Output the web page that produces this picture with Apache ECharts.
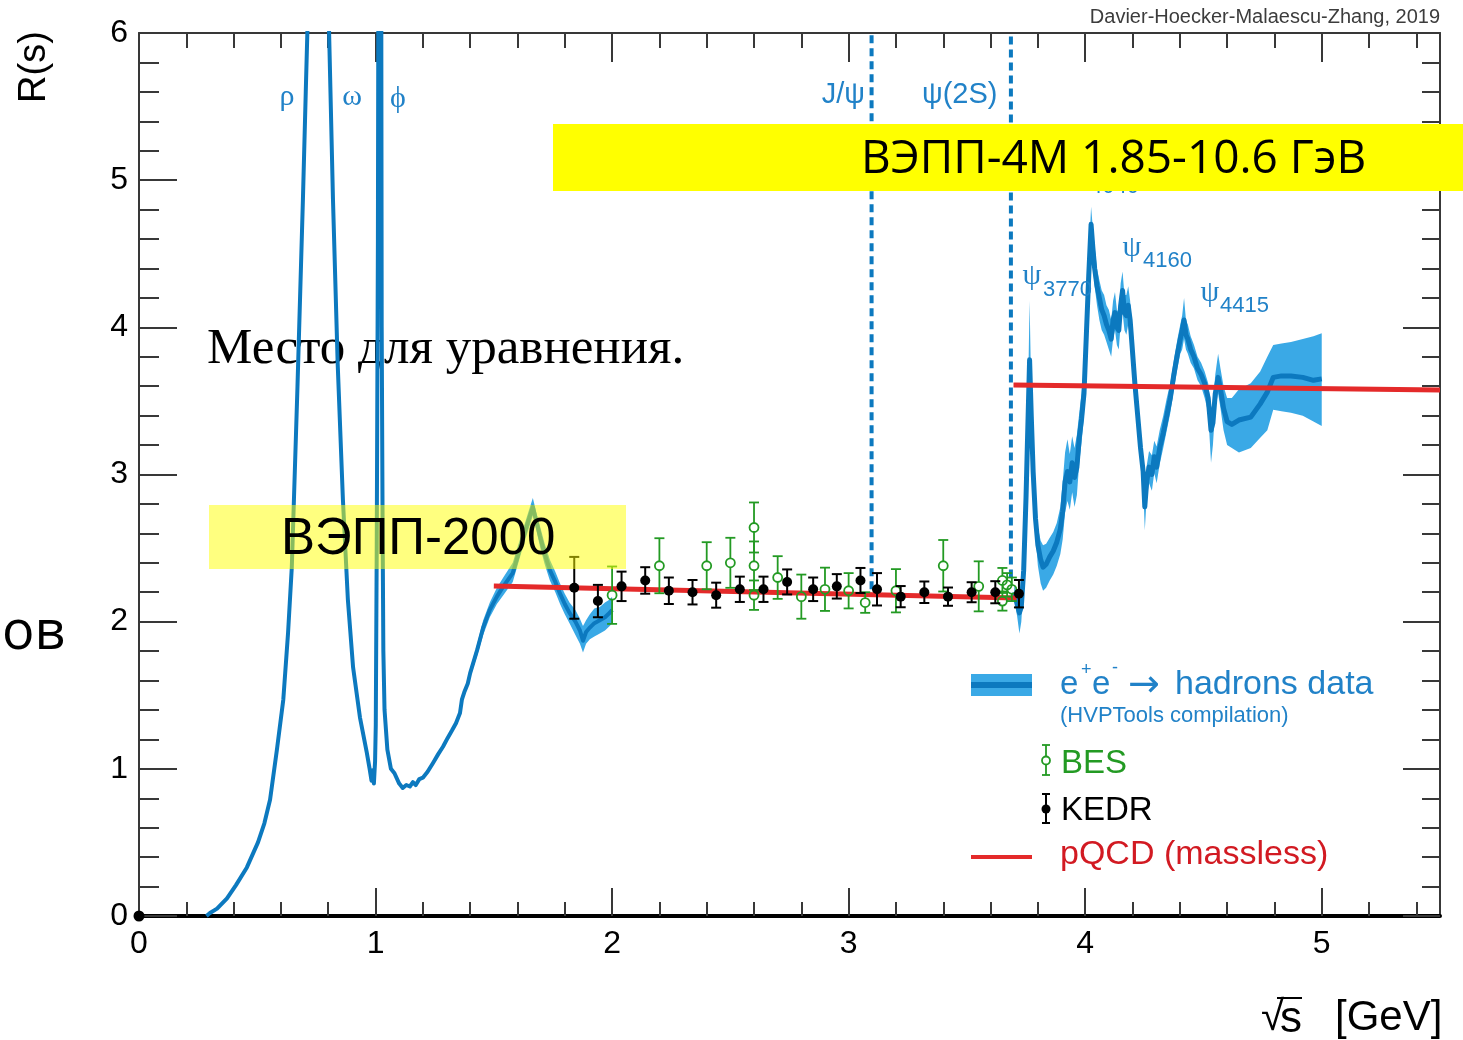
<!DOCTYPE html>
<html>
<head>
<meta charset="utf-8">
<title>R(s)</title>
<script src="https://cdn.jsdelivr.net/npm/echarts@6/dist/echarts.min.js"></script>
<style>
  html, body { margin: 0; padding: 0; background: #ffffff; }
  #chart { width: 1463px; height: 1040px; }
</style>
</head>
<body>
<div id="chart"></div>
<script>
// ---- e+e- -> hadrons compilation, light-quark region (line only) ----
const lowX = [0.285,0.30,0.33,0.372,0.41,0.456,0.503,0.53,0.554,0.583,0.61,0.63,0.646,0.655,0.67,0.693,0.705,0.725,0.775,0.795,0.82,0.84,0.862,0.883,0.905,0.934,0.963,0.975,0.983,0.988,0.993,0.998,1.001,1.005,1.010,1.015,1.019,1.022,1.026,1.030,1.033,1.038,1.050,1.065,1.08,1.10,1.115,1.13,1.145,1.158,1.17,1.185,1.20,1.22,1.243,1.265,1.285,1.305,1.323,1.34,1.357,1.365,1.375,1.39];
const lowR = [0.00,0.02,0.05,0.12,0.21,0.33,0.50,0.63,0.79,1.13,1.47,1.92,2.37,2.83,3.60,4.87,5.60,6.80,7.20,6.60,4.87,3.75,2.83,2.15,1.69,1.35,1.11,1.00,0.92,0.99,0.90,1.05,1.30,2.50,4.60,9.00,14.0,9.00,4.00,2.60,1.80,1.40,1.13,1.00,0.97,0.90,0.87,0.89,0.88,0.91,0.89,0.93,0.94,0.98,1.04,1.10,1.15,1.21,1.26,1.31,1.38,1.47,1.52,1.58];

// ---- 1.4 - 2.0 GeV, with uncertainty band ----
const midX  = [1.400,1.430,1.455,1.483,1.513,1.540,1.580,1.620,1.645,1.665,1.680,1.695,1.715,1.737,1.760,1.780,1.800,1.820,1.845,1.864,1.877,1.890,1.906,1.925,1.948,1.970,1.990,2.000];
const midR  = [1.65,1.81,1.96,2.08,2.17,2.24,2.33,2.55,2.68,2.78,2.68,2.58,2.46,2.35,2.27,2.19,2.12,2.06,2.00,1.94,1.87,1.93,1.96,1.99,2.01,2.03,2.06,2.08];
const midLo = [1.62,1.77,1.91,2.03,2.12,2.18,2.27,2.49,2.62,2.72,2.62,2.51,2.39,2.28,2.20,2.12,2.05,1.99,1.91,1.85,1.79,1.85,1.88,1.90,1.92,1.94,1.97,1.99];
const midUp = [1.68,1.85,2.01,2.13,2.23,2.30,2.40,2.61,2.74,2.84,2.74,2.65,2.53,2.42,2.34,2.26,2.19,2.13,2.08,2.02,1.97,2.01,2.05,2.09,2.10,2.13,2.15,2.17];

// ---- charm region above the psi(2S), with uncertainty band ----
const hiX  = [3.700,3.712,3.722,3.730,3.740,3.750,3.758,3.765,3.772,3.780,3.790,3.800,3.812,3.822,3.835,3.850,3.865,3.880,3.895,3.905,3.915,3.925,3.935,3.945,3.955,3.965,3.975,3.985,3.995,4.005,4.015,4.025,4.032,4.040,4.050,4.060,4.070,4.080,4.090,4.100,4.110,4.118,4.126,4.134,4.142,4.150,4.158,4.166,4.174,4.182,4.190,4.198,4.210,4.222,4.234,4.245,4.252,4.260,4.270,4.282,4.292,4.302,4.315,4.330,4.345,4.360,4.375,4.390,4.402,4.410,4.418,4.426,4.434,4.446,4.460,4.475,4.490,4.505,4.520,4.532,4.540,4.550,4.562,4.572,4.585,4.600,4.620,4.650,4.700,4.740,4.770,4.795,4.830,4.870,4.920,4.965,5.000];
const hiR  = [2.20,2.12,2.06,2.10,2.35,2.85,3.35,3.78,3.40,3.02,2.70,2.52,2.42,2.37,2.39,2.44,2.48,2.54,2.63,2.75,2.95,3.02,2.95,3.08,2.98,3.05,3.25,3.38,3.55,3.95,4.35,4.70,4.55,4.40,4.28,4.20,4.12,4.08,4.02,3.98,3.92,4.05,4.10,4.00,3.98,4.15,4.25,4.10,4.08,4.15,4.05,3.88,3.62,3.40,3.18,3.02,2.78,2.95,3.05,3.00,3.12,3.05,3.18,3.28,3.40,3.52,3.68,3.82,3.92,3.98,4.05,3.95,3.92,3.85,3.80,3.72,3.68,3.62,3.52,3.30,3.35,3.55,3.66,3.58,3.45,3.36,3.34,3.37,3.39,3.48,3.56,3.66,3.67,3.67,3.66,3.64,3.65];
const hiLo = [2.15,2.04,1.92,2.00,2.26,2.76,3.24,3.60,3.28,2.92,2.58,2.38,2.26,2.21,2.23,2.28,2.32,2.38,2.46,2.56,2.74,2.82,2.76,2.88,2.78,2.86,3.08,3.22,3.40,3.84,4.24,4.55,4.42,4.28,4.15,4.05,3.98,3.95,3.90,3.85,3.80,3.92,3.98,3.88,3.85,4.02,4.10,3.98,3.95,4.02,3.92,3.76,3.52,3.30,3.08,2.92,2.62,2.84,2.94,2.89,3.01,2.94,3.07,3.18,3.30,3.42,3.58,3.72,3.82,3.85,3.92,3.85,3.82,3.76,3.72,3.64,3.60,3.52,3.42,3.08,3.20,3.45,3.55,3.45,3.30,3.20,3.18,3.15,3.18,3.25,3.30,3.44,3.43,3.42,3.40,3.36,3.33];
const hiUp = [2.25,2.19,2.13,2.18,2.44,2.94,3.50,4.18,3.55,3.12,2.80,2.64,2.55,2.52,2.53,2.57,2.61,2.67,2.78,2.95,3.15,3.24,3.14,3.26,3.18,3.27,3.42,3.56,3.70,4.10,4.48,4.82,4.68,4.55,4.40,4.32,4.25,4.22,4.15,4.12,4.05,4.18,4.24,4.12,4.10,4.30,4.38,4.22,4.22,4.28,4.18,4.00,3.72,3.50,3.28,3.12,2.90,3.06,3.16,3.13,3.23,3.19,3.30,3.40,3.52,3.62,3.78,3.92,4.02,4.08,4.20,4.05,4.02,3.94,3.88,3.80,3.76,3.70,3.62,3.45,3.48,3.68,3.82,3.72,3.60,3.52,3.52,3.58,3.62,3.70,3.80,3.88,3.89,3.90,3.92,3.94,3.96];

// ---- KEDR scan ----
const kedrX   = [1.84,1.94,2.04,2.14,2.24,2.34,2.44,2.54,2.64,2.74,2.85,2.95,3.05,3.12,3.22,3.32,3.42,3.52,3.62,3.72];
const kedrR   = [2.23,2.14,2.24,2.28,2.21,2.20,2.18,2.22,2.22,2.27,2.22,2.24,2.28,2.22,2.17,2.20,2.17,2.20,2.20,2.19];
const kedrErr = [0.21,0.11,0.10,0.09,0.09,0.083,0.085,0.086,0.086,0.085,0.08,0.083,0.085,0.11,0.072,0.073,0.062,0.068,0.075,0.093];

// ---- BES scan ----
const besX   = [2.00,2.20,2.40,2.50,2.60,2.60,2.60,2.70,2.80,2.90,3.00,3.07,3.20,3.40,3.55,3.65,3.65,3.67,3.69];
const besR   = [2.18,2.38,2.38,2.40,2.64,2.38,2.18,2.30,2.17,2.22,2.21,2.13,2.21,2.38,2.24,2.28,2.14,2.25,2.22];
const besErr = [0.195,0.187,0.16,0.17,0.17,0.165,0.10,0.145,0.15,0.147,0.12,0.07,0.147,0.175,0.17,0.085,0.065,0.08,0.08];

// ---- massless pQCD prediction (uds, udsc) ----
const pqcdLowX  = [1.50, 3.71];
const pqcdLowR  = [2.242, 2.160];
const pqcdHighX = [3.697, 5.50];
const pqcdHighR = [3.608, 3.574];

// ---- narrow charmonium positions ----
const jpsiX = 3.097,  jpsiR  = [2.22, 6.0];
const psi2sX = 3.686, psi2sR = [2.30, 6.0];

// ---- axis ticks ----
const xLabels = [0, 1, 2, 3, 4, 5];
const xMajor  = [1, 2, 3, 4, 5];
const xMinor  = [];
for (let k = 1; k <= 27; k++) { if (k % 5 !== 0) xMinor.push(+(k * 0.2).toFixed(1)); }

const C_LINE = '#0c79bf';
const C_BAND = '#3aa9e6';
const C_TXT_BLUE = '#2182c8';
const C_RED = '#e42a2a';
const C_GREEN = '#239a23';
const C_AXIS = '#383838';
const SANS = '"Liberation Sans", Arial, sans-serif';
const SERIF = '"Liberation Serif", "DejaVu Serif", serif';
const CAL = '"Open Sans", "Noto Sans", sans-serif';

const zip = (xs, ys) => xs.map((x, i) => [x, ys[i]]);

function bandSeries(xs, lo, up) {
  return {
    type: 'custom', xAxisIndex: 0, yAxisIndex: 0, z: 2, silent: true, clip: true,
    data: [[xs[0], lo[0]]],
    renderItem(params, api) {
      const pts = [];
      for (let i = 0; i < xs.length; i++) pts.push(api.coord([xs[i], up[i]]));
      for (let i = xs.length - 1; i >= 0; i--) pts.push(api.coord([xs[i], lo[i]]));
      return { type: 'polygon', shape: { points: pts }, style: { fill: C_BAND } };
    }
  };
}

function errorSeries(name, xs, rs, es, o) {
  return {
    name, type: 'custom', xAxisIndex: 0, yAxisIndex: 0, z: o.z, silent: true,
    data: xs.map((x, i) => [x, rs[i], rs[i] - es[i], rs[i] + es[i]]),
    encode: { x: 0, y: [1, 2, 3] },
    renderItem(params, api) {
      const c = api.coord([api.value(0), api.value(1)]);
      const t = api.coord([api.value(0), api.value(3)]);
      const b = api.coord([api.value(0), api.value(2)]);
      const gap = o.open ? o.r : 0;
      const ls = { stroke: o.color, lineWidth: o.lw };
      return {
        type: 'group',
        children: [
          { type: 'line', shape: { x1: c[0], y1: t[1], x2: c[0], y2: c[1] - gap }, style: ls },
          { type: 'line', shape: { x1: c[0], y1: c[1] + gap, x2: c[0], y2: b[1] }, style: ls },
          { type: 'line', shape: { x1: c[0] - o.cap, y1: t[1], x2: c[0] + o.cap, y2: t[1] }, style: ls },
          { type: 'line', shape: { x1: c[0] - o.cap, y1: b[1], x2: c[0] + o.cap, y2: b[1] }, style: ls },
          { type: 'circle', shape: { cx: c[0], cy: c[1], r: o.r },
            style: o.open ? { fill: 'none', stroke: o.color, lineWidth: o.lw } : { fill: o.color } }
        ]
      };
    }
  };
}

function lineSeries(name, data, color, width, z, type) {
  return {
    name, type: 'line', xAxisIndex: 0, yAxisIndex: 0, data, z,
    showSymbol: false, symbol: 'none', clip: true, silent: true, smooth: false,
    lineStyle: { color, width, type: type || 'solid', join: 'round', cap: 'butt' }
  };
}

function txt(text, x, y, font, fill, align, z, extra) {
  return Object.assign({
    type: 'text', x, y, z: z || 20, silent: true,
    style: { text, font, fill, align: align || 'left', verticalAlign: 'middle' }
  }, extra || {});
}

const frameTick = { color: C_AXIS, width: 2 };

const option = {
  backgroundColor: '#ffffff',
  animation: false,
  grid: { left: 139, right: 23, top: 33, bottom: 124, containLabel: false, outerBoundsMode: 'none' },
  xAxis: [
    { type: 'value', position: 'bottom', min: 0, max: 5.5,
      axisLine: { show: true, onZero: false, symbol: ['circle', 'none'], symbolSize: [11, 11],
                  lineStyle: { color: '#000000', width: 4 } },
      axisTick: { show: true, inside: true, length: 28, customValues: xMajor, lineStyle: frameTick },
      axisLabel: { show: true, customValues: xLabels, fontSize: 32, fontFamily: SANS, color: '#000', margin: 12, hideOverlap: false },
      splitLine: { show: false } },
    { type: 'value', position: 'bottom', min: 0, max: 5.5,
      axisLine: { show: false, onZero: false },
      axisTick: { show: true, inside: true, length: 14, customValues: xMinor, lineStyle: frameTick },
      axisLabel: { show: false }, splitLine: { show: false } },
    { type: 'value', position: 'top', min: 0, max: 5.5,
      axisLine: { show: true, onZero: false, lineStyle: { color: C_AXIS, width: 2 } },
      axisTick: { show: true, inside: true, length: 29, customValues: xMajor, lineStyle: frameTick },
      axisLabel: { show: false }, splitLine: { show: false } },
    { type: 'value', position: 'top', min: 0, max: 5.5,
      axisLine: { show: false, onZero: false },
      axisTick: { show: true, inside: true, length: 15, customValues: xMinor, lineStyle: frameTick },
      axisLabel: { show: false }, splitLine: { show: false } }
  ],
  yAxis: [
    { type: 'value', position: 'left', min: 0, max: 6, interval: 1,
      axisLine: { show: true, onZero: false, lineStyle: { color: C_AXIS, width: 2 } },
      axisTick: { show: true, inside: true, length: 38, lineStyle: frameTick },
      minorTick: { show: true, splitNumber: 5, length: 20, lineStyle: frameTick },
      axisLabel: { show: true, fontSize: 32, fontFamily: SANS, color: '#000', margin: 11, hideOverlap: false },
      splitLine: { show: false }, minorSplitLine: { show: false } },
    { type: 'value', position: 'right', min: 0, max: 6, interval: 1,
      axisLine: { show: true, onZero: false, lineStyle: { color: C_AXIS, width: 2 } },
      axisTick: { show: true, inside: true, length: 37, lineStyle: frameTick },
      minorTick: { show: true, splitNumber: 5, length: 18, lineStyle: frameTick },
      axisLabel: { show: false }, splitLine: { show: false }, minorSplitLine: { show: false } }
  ],
  series: [
    bandSeries(midX, midLo, midUp),
    bandSeries(hiX, hiLo, hiUp),
    lineSeries('hadrons low', zip(lowX.concat(midX), lowR.concat(midR)), C_LINE, 4, 3),
    lineSeries('hadrons charm', zip(hiX, hiR), C_LINE, 5, 3),
    lineSeries('J/psi', [[jpsiX, jpsiR[0]], [jpsiX, jpsiR[1]]], C_LINE, 4, 4, [8, 5]),
    lineSeries('psi(2S)', [[psi2sX, psi2sR[0]], [psi2sX, psi2sR[1]]], C_LINE, 4, 4, [8, 5]),
    lineSeries('pQCD uds', zip(pqcdLowX, pqcdLowR), C_RED, 5, 4),
    lineSeries('pQCD udsc', zip(pqcdHighX, pqcdHighR), C_RED, 5, 4),
    errorSeries('BES', besX, besR, besErr, { color: C_GREEN, lw: 1.8, r: 4.5, cap: 5, open: true, z: 5 }),
    errorSeries('KEDR', kedrX, kedrR, kedrErr, { color: '#000000', lw: 2, r: 5, cap: 5, open: false, z: 6 })
  ],
  graphic: [
    // equation placeholder (under the curves)
    txt('Место для уравнения.', 207, 350, '51px ' + SERIF, '#000', 'left', 1),

    // resonance labels
    txt('ρ', 287, 97, '30px ' + SERIF, C_TXT_BLUE, 'center'),
    txt('ω', 352, 97, '30px ' + SERIF, C_TXT_BLUE, 'center'),
    txt('ϕ', 398, 99, '30px ' + SERIF, C_TXT_BLUE, 'center'),
    txt('J/ψ', 865, 95, '29px ' + SANS, C_TXT_BLUE, 'right'),
    txt('ψ(2S)', 922, 95, '29px ' + SANS, C_TXT_BLUE, 'left'),
    txt('ψ', 1032, 276, '30px ' + SERIF, C_TXT_BLUE, 'center'),
    txt('3770', 1043, 290, '22px ' + SANS, C_TXT_BLUE, 'left'),
    txt('ψ', 1080, 170, '30px ' + SERIF, C_TXT_BLUE, 'center'),
    txt('4040', 1090, 187, '22px ' + SANS, C_TXT_BLUE, 'left'),
    txt('ψ', 1132, 248, '30px ' + SERIF, C_TXT_BLUE, 'center'),
    txt('4160', 1143, 261, '22px ' + SANS, C_TXT_BLUE, 'left'),
    txt('ψ', 1210, 293, '30px ' + SERIF, C_TXT_BLUE, 'center'),
    txt('4415', 1220, 306, '22px ' + SANS, C_TXT_BLUE, 'left'),

    // credit line
    txt('Davier-Hoecker-Malaescu-Zhang, 2019', 1440, 17, '20px ' + SANS, '#3c3c3c', 'right'),

    // axis titles
    txt('R(s)', 35, 67, '38px ' + SANS, '#000', 'center', 20, { rotation: Math.PI / 2 }),
    txt('√', 1261, 1018, '42px ' + SANS, '#000', 'left'),
    txt('s', 1280, 1020, '44px ' + SANS, '#000', 'left'),
    { type: 'line', z: 20, silent: true, shape: { x1: 1277, y1: 998, x2: 1302, y2: 998 }, style: { stroke: '#000', lineWidth: 2 } },
    txt('[GeV]', 1335, 1018, '42px ' + SANS, '#000', 'left'),

    // legend
    { type: 'rect', z: 20, silent: true, shape: { x: 971, y: 674, width: 61, height: 22 }, style: { fill: C_BAND } },
    { type: 'rect', z: 21, silent: true, shape: { x: 971, y: 682, width: 61, height: 6 }, style: { fill: C_LINE } },
    txt('e', 1060, 685, '33px ' + SANS, C_TXT_BLUE, 'left'),
    txt('+', 1081, 670, '18px ' + SANS, C_TXT_BLUE, 'left'),
    txt('e', 1092, 685, '33px ' + SANS, C_TXT_BLUE, 'left'),
    txt('-', 1112, 668, '18px ' + SANS, C_TXT_BLUE, 'left'),
    txt('→', 1128, 686, '38px "DejaVu Sans", sans-serif', C_TXT_BLUE, 'left'),
    txt('hadrons data', 1175, 685, '34px ' + SANS, C_TXT_BLUE, 'left'),
    txt('(HVPTools compilation)', 1060, 716, '22px ' + SANS, C_TXT_BLUE, 'left'),

    { type: 'line', z: 20, silent: true, shape: { x1: 1046, y1: 745, x2: 1046, y2: 756 }, style: { stroke: C_GREEN, lineWidth: 1.8 } },
    { type: 'line', z: 20, silent: true, shape: { x1: 1046, y1: 765, x2: 1046, y2: 775 }, style: { stroke: C_GREEN, lineWidth: 1.8 } },
    { type: 'line', z: 20, silent: true, shape: { x1: 1042, y1: 745, x2: 1050, y2: 745 }, style: { stroke: C_GREEN, lineWidth: 1.8 } },
    { type: 'line', z: 20, silent: true, shape: { x1: 1042, y1: 775, x2: 1050, y2: 775 }, style: { stroke: C_GREEN, lineWidth: 1.8 } },
    { type: 'circle', z: 20, silent: true, shape: { cx: 1046, cy: 760.5, r: 4 }, style: { fill: 'none', stroke: C_GREEN, lineWidth: 1.8 } },
    txt('BES', 1061, 764, '33px ' + SANS, C_GREEN, 'left'),

    { type: 'line', z: 20, silent: true, shape: { x1: 1046, y1: 794, x2: 1046, y2: 823 }, style: { stroke: '#000', lineWidth: 2 } },
    { type: 'line', z: 20, silent: true, shape: { x1: 1042, y1: 794, x2: 1050, y2: 794 }, style: { stroke: '#000', lineWidth: 2 } },
    { type: 'line', z: 20, silent: true, shape: { x1: 1042, y1: 823, x2: 1050, y2: 823 }, style: { stroke: '#000', lineWidth: 2 } },
    { type: 'circle', z: 20, silent: true, shape: { cx: 1046, cy: 809, r: 4.5 }, style: { fill: '#000' } },
    txt('KEDR', 1061, 811, '33px ' + SANS, '#000', 'left'),

    { type: 'line', z: 20, silent: true, shape: { x1: 971, y1: 857, x2: 1032, y2: 857 }, style: { stroke: C_RED, lineWidth: 4 } },
    txt('pQCD (massless)', 1060, 855, '34px ' + SANS, '#d21a22', 'left'),

    // collider ranges
    { type: 'rect', z: 30, silent: true, shape: { x: 209, y: 505, width: 417, height: 64 }, style: { fill: 'rgba(255,255,0,0.5)' } },
    txt('ВЭПП-2000', 281, 540, '51px ' + SANS, '#000', 'left', 31),
    { type: 'rect', z: 30, silent: true, shape: { x: 553, y: 124, width: 910, height: 67 }, style: { fill: '#ffff00' } },
    txt('ВЭПП-4М 1.85-10.6 ГэВ', 861, 160, '46px ' + CAL, '#000', 'left', 31),

    // stray caption fragment on the left margin
    txt('ов', 2, 634, '54px ' + CAL, '#000', 'left', 31)
  ]
};

const chart = echarts.init(document.getElementById('chart'), null, { renderer: 'canvas' });
chart.setOption(option);
</script>
</body>
</html>
